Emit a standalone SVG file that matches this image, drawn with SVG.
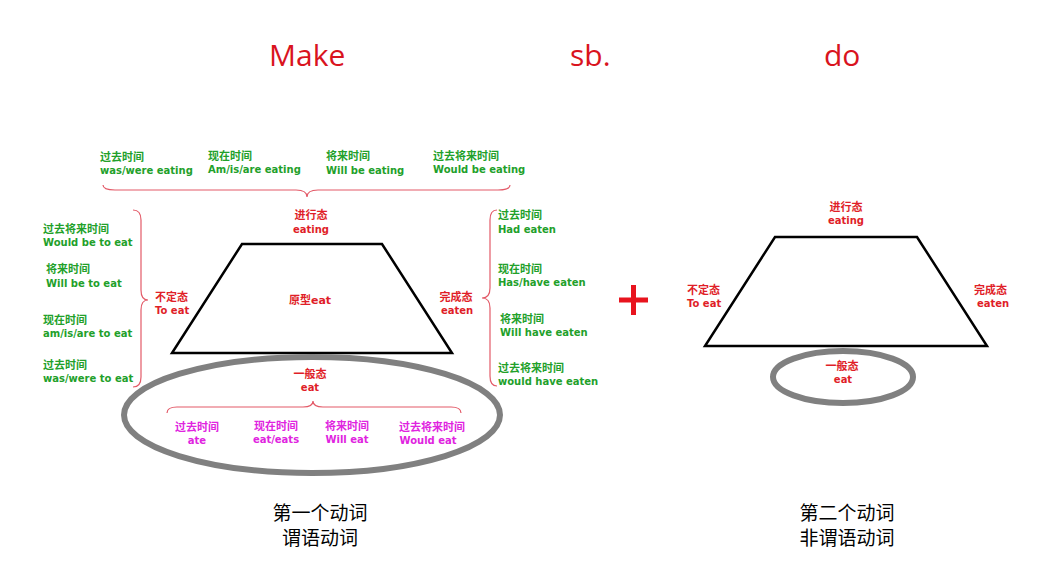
<svg xmlns="http://www.w3.org/2000/svg" width="1043" height="581" viewBox="0 0 1043 581">
<style>
text{font-family:"DejaVu Sans","Noto Sans CJK SC",sans-serif;font-weight:bold;font-size:10px}
.k{font-size:11px}
.title{font-size:30px;font-weight:normal;fill:#d9141e;font-family:"Open Sans","Liberation Sans",sans-serif}
.g{fill:#22a02a}
.r{fill:#e01e28}
.m{fill:#e024e0}
.c{text-anchor:middle}
.blk{font-size:19px;font-weight:normal;fill:#000;text-anchor:middle;font-family:"Noto Sans CJK SC",sans-serif}
.trap{fill:none;stroke:#000;stroke-width:2.5;stroke-linejoin:miter}
.ring{fill:none;stroke:#808080;stroke-width:6}
.brace{fill:none;stroke:#e35a68;stroke-width:1.2}
</style>
<rect width="1043" height="581" fill="#fff"/>
<g id="titles">
<text class="title" x="269" y="66">Make</text>
<text class="title" x="570" y="66">sb.</text>
<text class="title" x="824" y="66">do</text>
</g>
<g id="connectors">
<path class="brace" d="M103,185 Q103,190 115,190 L296,190 Q307,190 307,197 Q307,190 318,190 L498,190 Q510,190 510,185"/>
<path class="brace" d="M133,210 Q141,210 141,220 L141,290 Q141,300 148,300 Q141,300 141,310 L141,377 Q141,387 133,387"/>
<path class="brace" d="M497,210 Q490,210 490,220 L490,288 Q490,298 482,298 Q490,298 490,308 L490,376 Q490,386 497,386"/>
<path class="brace" d="M167,413 Q167,407 177,407 L303,407 Q313,407 313,401 Q313,407 323,407 L451,407 Q461,407 461,413"/>
</g>
<g id="progressive-times">
<text class="g k" x="100" y="161">过去时间</text>
<text class="g" x="100" y="174">was/were eating</text>
<text class="g k" x="208" y="160">现在时间</text>
<text class="g" x="208" y="173">Am/is/are eating</text>
<text class="g k" x="326" y="160">将来时间</text>
<text class="g" x="326" y="174">Will be eating</text>
<text class="g k" x="433" y="160">过去将来时间</text>
<text class="g" x="433" y="173">Would be eating</text>
</g>
<g id="infinitive-times">
<text class="g k" x="43" y="233">过去将来时间</text>
<text class="g" x="43" y="246">Would be to eat</text>
<text class="g k" x="46" y="273">将来时间</text>
<text class="g" x="46" y="287">Will be to eat</text>
<text class="g k" x="43" y="324">现在时间</text>
<text class="g" x="43" y="337">am/is/are to eat</text>
<text class="g k" x="43" y="369">过去时间</text>
<text class="g" x="43" y="382">was/were to eat</text>
</g>
<g id="perfect-times">
<text class="g k" x="498" y="219">过去时间</text>
<text class="g" x="498" y="233">Had eaten</text>
<text class="g k" x="498" y="273">现在时间</text>
<text class="g" x="498" y="286">Has/have eaten</text>
<text class="g k" x="500" y="323">将来时间</text>
<text class="g" x="500" y="336">Will have eaten</text>
<text class="g k" x="498" y="372">过去将来时间</text>
<text class="g" x="498" y="385">would have eaten</text>
</g>
<g id="left-trapezoid">
<polygon class="trap" points="242,244 382,244 452,353 172,353"/>
<text class="r k c" x="311" y="219">进行态</text>
<text class="r c" x="311" y="233">eating</text>
<text class="r k c" x="310" y="304">原型eat</text>
<text class="r k" x="155" y="301">不定态</text>
<text class="r" x="155" y="314">To eat</text>
<text class="r k c" x="456" y="301">完成态</text>
<text class="r c" x="457" y="314">eaten</text>
</g>
<g id="left-ring">
<ellipse class="ring" cx="312" cy="415" rx="188" ry="58"/>
<text class="r k c" x="310" y="378">一般态</text>
<text class="r c" x="310" y="391">eat</text>
<text class="m k c" x="197" y="431">过去时间</text>
<text class="m c" x="197" y="444">ate</text>
<text class="m k c" x="276" y="430">现在时间</text>
<text class="m c" x="276" y="443">eat/eats</text>
<text class="m k c" x="347" y="430">将来时间</text>
<text class="m c" x="347" y="443">Will eat</text>
<text class="m k c" x="432" y="431">过去将来时间</text>
<text class="m c" x="428" y="444">Would eat</text>
</g>
<g id="plus">
<path d="M619,300 H648 M633.5,285 V315" stroke="#e8141e" stroke-width="5" fill="none"/>
</g>
<g id="right-trapezoid">
<polygon class="trap" points="775,237 917,237 987,346 705,346"/>
<text class="r k c" x="846" y="211">进行态</text>
<text class="r c" x="846" y="224">eating</text>
<text class="r k" x="687" y="294">不定态</text>
<text class="r" x="687" y="307">To eat</text>
<text class="r k" x="974" y="294">完成态</text>
<text class="r" x="977" y="307">eaten</text>
</g>
<g id="right-ring">
<ellipse class="ring" cx="843" cy="377" rx="70" ry="26"/>
<text class="r k c" x="842" y="370">一般态</text>
<text class="r c" x="843" y="383">eat</text>
</g>
<g id="labels">
<text class="blk" x="320" y="520">第一个动词</text>
<text class="blk" x="320" y="545">谓语动词</text>
<text class="blk" x="847" y="520">第二个动词</text>
<text class="blk" x="847" y="545">非谓语动词</text>
</g>
</svg>
